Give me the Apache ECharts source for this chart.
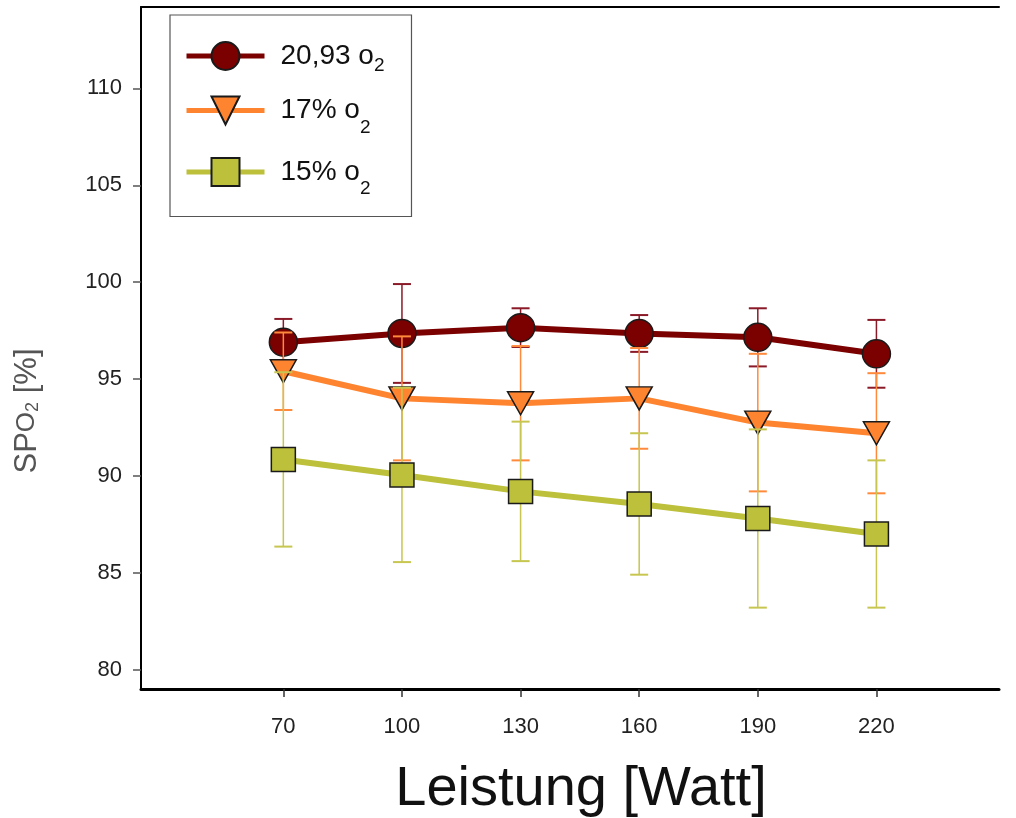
<!DOCTYPE html>
<html><head><meta charset="utf-8">
<script src="https://cdn.jsdelivr.net/npm/echarts@6/dist/echarts.min.js"></script>
<style>html,body{margin:0;padding:0;background:#fff}#c{width:1016px;height:818px}</style>
</head><body><div id="c"></div>
<script>
// ---- data ----
const watts = [70, 100, 130, 160, 190, 220];
const yTicks = [80, 85, 90, 95, 100, 105, 110];
const seriesNames = ['20,93 o2', '17% o2', '15% o2'];
const o2Normal    = [96.9, 97.35, 97.65, 97.35, 97.15, 96.3];
const o2NormalErr = [1.2, 2.55, 1.0, 0.95, 1.5, 1.75];
const o2p17       = [95.4, 94.0, 93.75, 94.0, 92.75, 92.2];
const o2p17Err    = [2.0, 3.2, 2.95, 2.6, 3.55, 3.1];
const o2p15       = [90.85, 90.05, 89.2, 88.55, 87.8, 87.0];
const o2p15Err    = [4.5, 4.5, 3.6, 3.65, 4.6, 3.8];

const FONT = 'Liberation Sans, Arial, sans-serif';
const chart = echarts.init(document.getElementById('c'));

function errSeries(name, vals, errs, color, z) {
  return {
    type: 'custom', name: name + ' err', z: z, silent: true,
    data: watts.map((w, i) => [w, vals[i] - errs[i], vals[i] + errs[i]]),
    encode: { x: 0, y: [1, 2] },
    renderItem: function (params, api) {
      const x = api.value(0);
      const lo = api.coord([x, api.value(1)]);
      const hi = api.coord([x, api.value(2)]);
      const hw = 9;
      const st = { stroke: color, lineWidth: 1.5 };
      const cap = { stroke: color, lineWidth: 2 };
      return { type: 'group', children: [
        { type: 'line', shape: { x1: lo[0], y1: lo[1], x2: hi[0], y2: hi[1] }, style: st },
        { type: 'line', shape: { x1: lo[0] - hw, y1: lo[1], x2: lo[0] + hw, y2: lo[1] }, style: cap },
        { type: 'line', shape: { x1: hi[0] - hw, y1: hi[1], x2: hi[0] + hw, y2: hi[1] }, style: cap }
      ]};
    }
  };
}

function lineSeries(name, vals, color, symbol, size, z) {
  return {
    type: 'line', name: name, z: z,
    data: watts.map((w, i) => [w, vals[i]]),
    symbol: symbol, symbolSize: size, showAllSymbol: true,
    lineStyle: { color: color, width: 6 },
    itemStyle: { color: color, borderColor: '#1a1a1a', borderWidth: 1.5 },
    emphasis: { disabled: true }
  };
}

const subPad = { '20,93 o2': 's1', '17% o2': 's2', '15% o2': 's2' };

chart.setOption({
  animation: false,
  backgroundColor: '#fff',
  grid: { left: 141, right: 17, top: 7, bottom: 129 },
  xAxis: [{
    type: 'value', min: 34, max: 251,
    axisLine: { show: true, onZero: false, lineStyle: { color: '#000', width: 3 } },
    axisTick: { show: true, length: 8, customValues: watts, lineStyle: { color: '#333', width: 1.5 } },
    axisLabel: { customValues: watts, margin: 27, fontSize: 22, color: '#222', fontFamily: FONT },
    splitLine: { show: false }
  }, {
    type: 'value', position: 'top', min: 34, max: 251,
    axisLine: { show: true, onZero: false, lineStyle: { color: '#000', width: 2 } },
    axisTick: { show: false }, axisLabel: { show: false }, splitLine: { show: false }
  }],
  yAxis: {
    type: 'value', min: 79, max: 114.2,
    axisLine: { show: true, lineStyle: { color: '#000', width: 2 } },
    axisTick: { show: true, length: 8, customValues: yTicks, lineStyle: { color: '#555', width: 1.5 } },
    axisLabel: { customValues: yTicks, margin: 19, fontSize: 22, color: '#222', fontFamily: FONT },
    splitLine: { show: false }
  },
  legend: {
    orient: 'vertical', left: 170, top: 15,
    padding: [26, 27, 18, 14], itemGap: 20, itemWidth: 78, itemHeight: 35,
    borderColor: '#555', borderWidth: 1.2, selectedMode: false,
    lineStyle: { width: 5 },
    data: seriesNames,
    formatter: function (name) {
      return '{n|' + name.slice(0, -1) + '}{' + subPad[name] + '|2}';
    },
    textStyle: {
      rich: {
        n: { fontSize: 28, color: '#111', fontFamily: FONT, padding: [0, 0, 0, 11] },
        s1: { fontSize: 19, color: '#111', fontFamily: FONT, padding: [20, 0, 0, 0] },
        s2: { fontSize: 19, color: '#111', fontFamily: FONT, padding: [34, 0, 0, 0] }
      }
    }
  },
  graphic: [{
    type: 'text', x: 27, y: 411, rotation: Math.PI / 2,
    style: {
      text: '{a|SP}{b|O}{c|2}{a| [%]}', align: 'center', verticalAlign: 'middle',
      rich: {
        a: { fontSize: 31, fill: '#555', fontFamily: FONT },
        b: { fontSize: 26, fill: '#555', fontFamily: FONT },
        c: { fontSize: 18, fill: '#555', fontFamily: FONT, padding: [12, 0, 0, 0] }
      }
    }
  }, {
    type: 'text', x: 581, y: 790,
    style: { text: 'Leistung [Watt]', fontSize: 56, fill: '#111', fontFamily: FONT, align: 'center', verticalAlign: 'middle' }
  }],
  series: [
    errSeries(seriesNames[0], o2Normal, o2NormalErr, '#8a1a28', 2),
    lineSeries(seriesNames[0], o2Normal, '#7b0000', 'circle', 28, 3),
    errSeries(seriesNames[1], o2p17, o2p17Err, '#ff8a3c', 4),
    lineSeries(seriesNames[1], o2p17, '#ff8430', 'path://M0,0 L26,0 L13,23 Z', [26, 23], 5),
    errSeries(seriesNames[2], o2p15, o2p15Err, '#c6c650', 6),
    lineSeries(seriesNames[2], o2p15, '#bcc03a', 'rect', 24, 7)
  ]
});
</script></body></html>
